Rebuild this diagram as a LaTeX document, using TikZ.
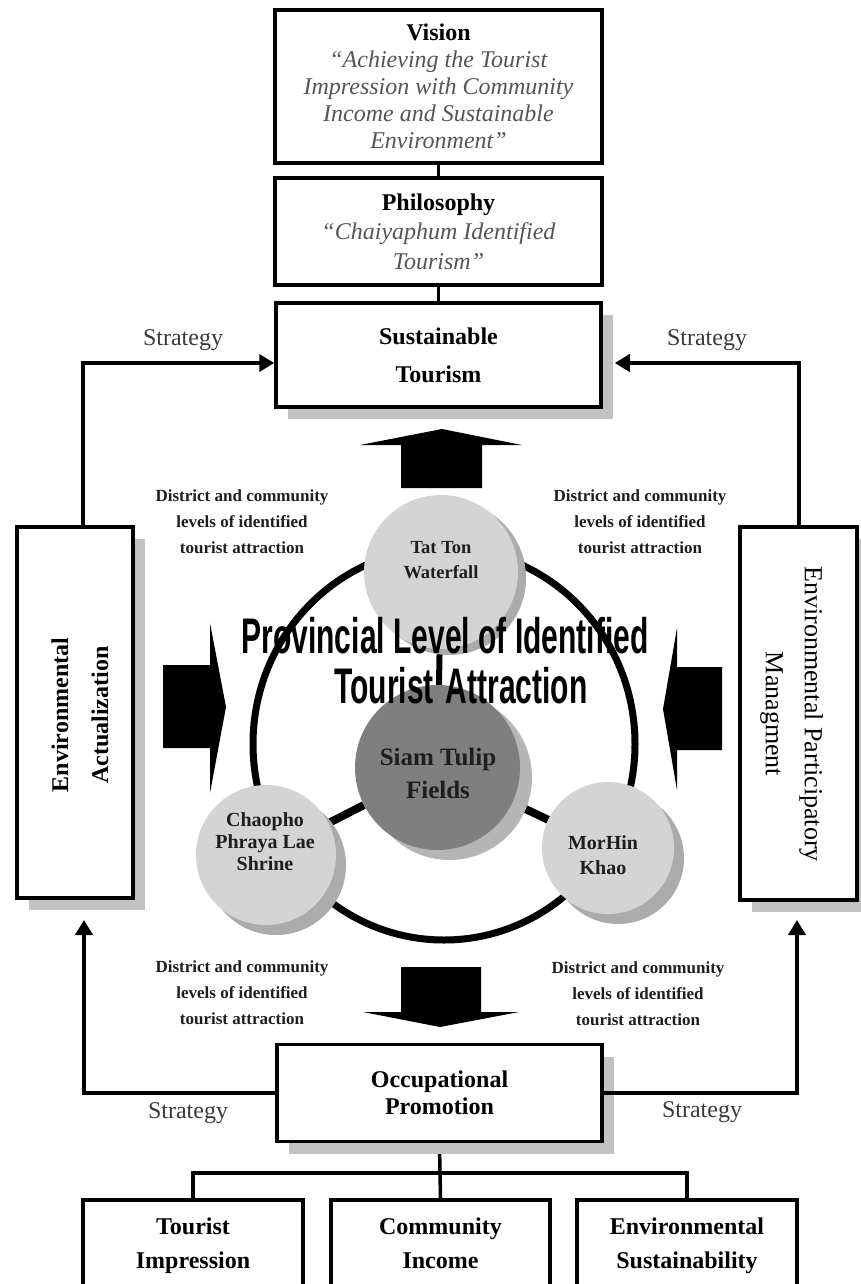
\documentclass[tikz,border=0pt]{standalone}
\usepackage{graphicx}
\usepackage{fontspec}
\setmainfont{Liberation Serif}
\newfontfamily\titlesans{Liberation Sans}
\usetikzlibrary{arrows.meta,shadows,calc,backgrounds}
\definecolor{shadowgray}{HTML}{C2C2C2}
\definecolor{lgray}{HTML}{D4D4D4}
\definecolor{lshadow}{HTML}{ABABAB}
\definecolor{dgray}{HTML}{7F7F7F}
\definecolor{dshadow}{HTML}{B5B5B5}
\definecolor{itgray}{HTML}{555555}
\definecolor{strgray}{HTML}{3A3A3A}
\definecolor{lbl}{HTML}{1E1E1E}
\begin{document}
\begin{tikzpicture}[x=1pt,y=-1pt,
  box/.style={draw=black, line width=3.5pt, fill=white, align=center, inner sep=0pt},
  shbox/.style={box, drop shadow={fill=shadowgray, opacity=1, shadow xshift=12pt, shadow yshift=-12pt}},
  conn/.style={line width=3.5pt},
  strat/.style={line width=4pt, -{Triangle[length=15pt,width=17pt]}},
  sidetext/.style={align=center, inner sep=0pt, font={\fontsize{24}{40}\selectfont}},
  strlabel/.style={inner sep=0pt, text=strgray, font={\fontsize{24}{28}\selectfont}},
  dlabel/.style={align=center, inner sep=0pt, text=lbl, font={\bfseries\fontsize{17}{26}\selectfont}},
  circ/.style={circle, inner sep=0pt},
  ctext/.style={align=center, inner sep=0pt, text=lbl},
  bigtitle/.style={inner sep=0pt, anchor=base, font={\titlesans\bfseries\fontsize{50}{50}\selectfont}},
  blockarrow/.style={fill=black}
]
\clip (0,0) rectangle (861,1284);

% ---------- top boxes ----------
\node[box, minimum width=327pt, minimum height=153pt, font={\fontsize{24}{27}\selectfont}] (vis) at (438.5,86.5)
  {\textbf{Vision}\\ \textcolor{itgray}{\textit{“Achieving the Tourist}}\\ \textcolor{itgray}{\textit{Impression with Community}}\\ \textcolor{itgray}{\textit{Income and Sustainable}}\\ \textcolor{itgray}{\textit{Environment”}}};
\node[box, minimum width=327pt, minimum height=107pt, font={\fontsize{24}{29.5}\selectfont}] (phi) at (438.5,231.5)
  {\textbf{Philosophy}\\ \textcolor{itgray}{\textit{“Chaiyaphum Identified}}\\ \textcolor{itgray}{\textit{Tourism”}}};
\node[shbox, minimum width=325pt, minimum height=104pt, font={\bfseries\fontsize{24}{38}\selectfont}] (st) at (438.5,355)
  {Sustainable\\Tourism};

% ---------- side boxes ----------
\node[shbox, minimum width=116pt, minimum height=371pt] (ea) at (75,712.5) {};
\node[sidetext, rotate=90, font={\bfseries\fontsize{24}{40}\selectfont}] (eal) at (80,715) {Environmental\\Actualization};
\node[shbox, minimum width=117pt, minimum height=373pt] (ep) at (798.5,713.5) {};
\node[sidetext, rotate=-90, font={\fontsize{26}{39}\selectfont}] (epl) at (791.5,714) {Environmental Participatory\\Managment};

% ---------- occupational + bottom ----------
\node[shbox, minimum width=325pt, minimum height=97pt, font={\bfseries\fontsize{24}{27.5}\selectfont}] (op) at (439.5,1093)
  {Occupational\\Promotion};
\node[box, anchor=north, minimum width=220pt, minimum height=92pt, font={\bfseries\fontsize{24}{34}\selectfont}] (ti) at (193,1198) {Tourist\\Impression};
\node[box, anchor=north, minimum width=219pt, minimum height=92pt, font={\bfseries\fontsize{24}{34}\selectfont}] (ci) at (440.5,1198) {Community\\Income\vphantom{y}};
\node[box, anchor=north, minimum width=220pt, minimum height=92pt, font={\bfseries\fontsize{24}{34}\selectfont}] (es) at (687,1198) {Environmental\\Sustainability};

% ---------- circles ----------
\node[circ, fill=lgray, minimum size=154pt, drop shadow={fill=lshadow, opacity=1, shadow xshift=8pt, shadow yshift=-6pt}] (tt) at (441,572) {};
\node[circ, fill=dgray, minimum size=165pt, drop shadow={fill=dshadow, opacity=1, shadow xshift=12pt, shadow yshift=-10pt}] (siam) at (437.5,767.5) {};
\node[circ, fill=lgray, minimum size=140pt, drop shadow={fill=lshadow, opacity=1, shadow xshift=10pt, shadow yshift=-10pt}] (chao) at (266,855) {};
\node[circ, fill=lgray, minimum size=132pt, drop shadow={fill=lshadow, opacity=1, shadow xshift=10pt, shadow yshift=-10pt}] (mh) at (608,848) {};

\node[ctext, font={\bfseries\fontsize{18.5}{25}\selectfont}] (ttl) at (441,560) {Tat Ton\\Waterfall};
\node[ctext, font={\bfseries\fontsize{25}{33}\selectfont}] (siaml) at (438,773) {Siam Tulip\\Fields};
\node[ctext, font={\bfseries\fontsize{20}{22}\selectfont}] (chaol) at (265,842) {Chaopho\\Phraya Lae\\Shrine};
\node[ctext, font={\bfseries\fontsize{20}{25}\selectfont}] (mhl) at (603,855) {MorHin\\Khao};

% ---------- block arrows ----------
\fill[blockarrow] (401,488) -- (401,445) -- (360,445) -- (442,429) -- (522,445) -- (482,445) -- (482,488) -- cycle;
\fill[blockarrow] (401,967) -- (481,967) -- (481,1012) -- (519,1012) -- (440,1027) -- (363,1012) -- (401,1012) -- cycle;
\fill[blockarrow] (163,665) -- (210,665) -- (210,623) -- (226,707) -- (210,793) -- (210,748) -- (163,748) -- cycle;
\fill[blockarrow] (722,667) -- (677,667) -- (677,628) -- (663,709) -- (677,790) -- (677,750) -- (722,750) -- cycle;

% ---------- big title ----------
\node[bigtitle] (pt1) at (445,653) {\scalebox{0.6}[1]{Provincial Level of Identified}};
\node[bigtitle] (pt2) at (461,703) {\scalebox{0.6}[1]{Tourist\hspace{6pt} Attraction}};

% ---------- labels ----------
\node[strlabel] (s1) at (183,340) {Strategy};
\node[strlabel] (s2) at (707,340) {Strategy};
\node[strlabel] (s3) at (188,1113) {Strategy};
\node[strlabel] (s4) at (702,1112) {Strategy};

\node[dlabel] (d1) at (242,522) {District and community\\levels of identified\\tourist attraction};
\node[dlabel] (d2) at (640,522) {District and community\\levels of identified\\tourist attraction};
\node[dlabel] (d3) at (242,993) {District and community\\levels of identified\\tourist attraction};
\node[dlabel] (d4) at (638,994) {District and community\\levels of identified\\tourist attraction};

\coordinate (eat) at (84,920);
\coordinate (ept) at (797,920);
\coordinate (bus) at (440,1173);

% ---------- strategy arrows ----------
\draw[strat] ([xshift=8pt]ea.north) |- ([yshift=-8pt]st.west);
\draw[strat] (ep.north) |- ([xshift=12pt,yshift=-8pt]st.east);
\draw[strat] (op.west) -| (eat);
\draw[strat] (op.east) -| (ept);

% ---------- connectors (behind) ----------
\begin{scope}[on background layer]
  \draw[line width=7pt] (444,744) ellipse [x radius=191pt, y radius=196pt];
  \draw[line width=8pt] (siam) -- (chao);
  \draw[line width=8pt] (siam) -- (mh);
  \draw[line width=6pt] (tt) -- (siam);
  \draw[conn] (vis) -- (phi);
  \draw[conn] (phi) -- (st);
  \draw[conn] (op.south) -- (bus);
  \draw[conn] (ti.north) |- (bus) -| (es.north);
  \draw[conn] (bus) -- (ci.north);
\end{scope}
\end{tikzpicture}
\end{document}
